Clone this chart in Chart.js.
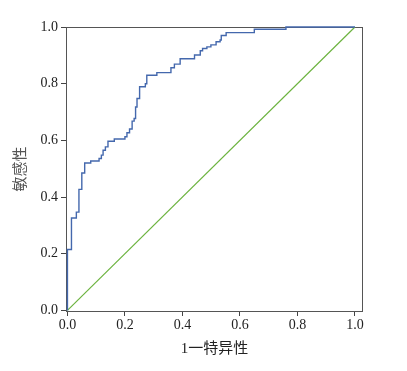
<!DOCTYPE html>
<html>
<head>
<meta charset="utf-8">
<script src="https://cdn.jsdelivr.net/npm/chart.js@4.4.1/dist/chart.umd.min.js"></script>
<style>
  html, body { margin: 0; padding: 0; background: #fff; }
  #wrap { width: 407px; height: 371px; }
</style>
</head>
<body>
<div id="wrap"><canvas id="roc" width="407" height="371"></canvas></div>
<script>
// ROC curve corners: (1 - specificity, sensitivity)
const fpr = [0, 0, 0.014, 0.031, 0.04, 0.05, 0.06, 0.081, 0.11, 0.118, 0.124, 0.132, 0.141, 0.163,
  0.2, 0.207, 0.216, 0.225, 0.232, 0.237, 0.242, 0.251, 0.271, 0.276, 0.311, 0.36, 0.372, 0.392,
  0.442, 0.462, 0.47, 0.485, 0.499, 0.517, 0.531, 0.535, 0.552, 0.65, 0.76, 0.82, 1.0];
const tpr = [0, 0.206, 0.215, 0.326, 0.347, 0.427, 0.485, 0.52, 0.527, 0.536, 0.548, 0.565, 0.577, 0.597,
  0.605, 0.613, 0.627, 0.64, 0.668, 0.677, 0.718, 0.748, 0.789, 0.8, 0.83, 0.839, 0.856, 0.869,
  0.888, 0.901, 0.916, 0.924, 0.93, 0.937, 0.948, 0.954, 0.97, 0.98, 0.992, 1.0, 1.0];
const refX = [0, 1];
const refY = [0, 1];
const tickValues = [0, 0.2, 0.4, 0.6, 0.8, 1.0];
const xTitle = "1一特异性";
const yTitle = "敏感性";

const serif = "'Liberation Serif', 'Times New Roman', serif";
const cjk = "'Liberation Serif', 'Noto Sans CJK SC', serif";

const toPoints = (xs, ys) => xs.map((x, i) => ({ x: x, y: ys[i] }));

const frame = {
  id: "frame",
  beforeDatasetsDraw(chart) {
    const a = chart.chartArea;
    const ctx = chart.ctx;
    ctx.save();
    ctx.strokeStyle = "#555";
    ctx.lineWidth = 1;
    ctx.strokeRect(a.left + 0.5, a.top + 0.5, a.right - a.left - 1, a.bottom - a.top);
    ctx.restore();
  }
};

const fixTicks = (scale) => {
  scale.ticks = tickValues.map((v) => ({ value: v }));
};

new Chart(document.getElementById("roc"), {
  type: "line",
  data: {
    datasets: [
      {
        data: toPoints(fpr, tpr),
        borderColor: "#4468ad",
        borderWidth: 1.4,
        pointRadius: 0,
        stepped: "after",
        fill: false,
        clip: false
      },
      {
        data: toPoints(refX, refY),
        borderColor: "#6cb33f",
        borderWidth: 1.2,
        pointRadius: 0,
        fill: false,
        clip: false
      }
    ]
  },
  options: {
    responsive: false,
    animation: false,
    layout: { padding: { left: 0, right: 44, top: 27, bottom: 0 } },
    plugins: { legend: { display: false }, tooltip: { enabled: false } },
    scales: {
      x: {
        type: "linear",
        min: -0.005,
        max: 1.028,
        afterBuildTicks: fixTicks,
        afterFit: (s) => { s.height = 60; },
        grid: { drawOnChartArea: false, drawTicks: true, tickLength: 5, color: "#444" },
        border: { display: false },
        ticks: {
          padding: 1,
          color: "#222",
          font: { family: serif, size: 14 },
          maxRotation: 0,
          callback: (v) => Number(v).toFixed(1)
        },
        title: {
          display: true,
          text: xTitle,
          color: "#222",
          font: { family: cjk, size: 15 },
          padding: { top: 0, bottom: 13 }
        }
      },
      y: {
        type: "linear",
        min: -0.002,
        max: 1.0,
        afterBuildTicks: fixTicks,
        afterFit: (s) => { s.width = 66; },
        grid: { drawOnChartArea: false, drawTicks: true, tickLength: 5, color: "#444" },
        border: { display: false },
        ticks: {
          padding: 3,
          color: "#222",
          font: { family: serif, size: 14 },
          callback: (v) => Number(v).toFixed(1)
        },
        title: {
          display: true,
          text: yTitle,
          color: "#555",
          font: { family: cjk, size: 15 },
          padding: { top: 12, bottom: 0 }
        }
      }
    }
  },
  plugins: [frame]
});
</script>
</body>
</html>
